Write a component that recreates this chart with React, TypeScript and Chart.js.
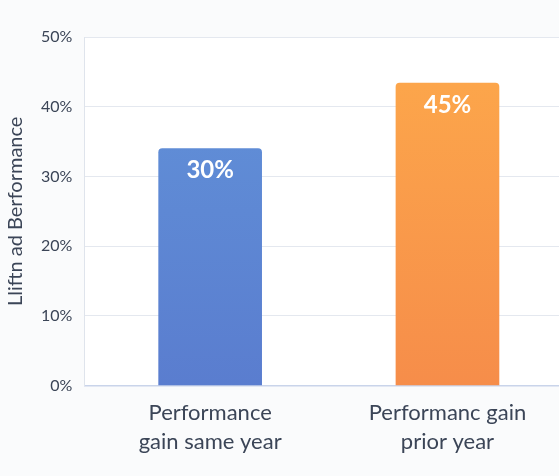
import React, { useEffect, useRef } from "react";
import { Chart, registerables } from "chart.js";

Chart.register(...registerables);

// ---- data ----
const categories: string[][] = [
  ["Performance", "gain same year"],
  ["Performanc gain", "prior year"],
];
const positions: number[] = [0, 1];
const values: number[] = [34.0, 43.4];
const valueLabels: string[] = ["30%", "45%"];
const yTitle = "Lliftn ad Berformance";
const yMin = 0;
const yMax = 50;
const yStep = 10;

// ---- styles ----
const FONT = "Lato";
const TEXT = "#3b4557";
const topColors = ["#6293d9", "#fda94b"];
const bottomColors = ["#5a7dcf", "#f68d4a"];

const bgPlugin = {
  id: "pageBg",
  beforeDraw(chart: any) {
    const { ctx, width, height } = chart;
    ctx.save();
    ctx.fillStyle = "#fafbfc";
    ctx.fillRect(0, 0, width, height);
    const a = chart.chartArea;
    if (a) {
      ctx.fillStyle = "#ffffff";
      ctx.fillRect(a.left, a.top, a.right - a.left, a.bottom - a.top);
    }
    ctx.restore();
  },
};

const barLabelPlugin = {
  id: "barLabels",
  afterDatasetsDraw(chart: any) {
    const meta = chart.getDatasetMeta(0);
    const ctx = chart.ctx;
    ctx.save();
    ctx.fillStyle = "#ffffff";
    ctx.font = `bold 24px ${FONT}`;
    ctx.textAlign = "center";
    ctx.textBaseline = "middle";
    meta.data.forEach((bar: any, i: number) => {
      ctx.fillText(valueLabels[i], bar.x, bar.y + 22);
    });
    ctx.restore();
  },
};

export default function App() {
  const ref = useRef<HTMLCanvasElement | null>(null);

  useEffect(() => {
    document.body.style.margin = "0";
    document.body.style.background = "#fafbfc";
    if (!ref.current) return;
    const chart = new Chart(ref.current, {
      type: "bar",
      data: {
        datasets: [
          {
            data: positions.map((x, i) => ({ x, y: values[i] })),
            backgroundColor: (c: any) => {
              const { chart, dataIndex } = c;
              const area = chart.chartArea;
              if (!area) return topColors[dataIndex];
              const g = chart.ctx.createLinearGradient(0, area.top, 0, area.bottom);
              g.addColorStop(0, topColors[dataIndex]);
              g.addColorStop(1, bottomColors[dataIndex]);
              return g;
            },
            borderRadius: { topLeft: 4, topRight: 4, bottomLeft: 0, bottomRight: 0 },
            borderSkipped: "bottom",
            barThickness: 103,
          },
        ],
      },
      options: {
        animation: false,
        responsive: true,
        maintainAspectRatio: false,
        layout: { padding: { top: 37, left: 2, right: 0, bottom: 7 } },
        plugins: {
          legend: { display: false },
          tooltip: { enabled: false },
        },
        scales: {
          x: {
            type: "linear",
            offset: false,
            min: -0.53,
            max: 1.47,
            afterBuildTicks: (axis: any) => {
              axis.ticks = positions.map((v) => ({ value: v }));
            },
            ticks: {
              callback: (_v: any, i: number) => categories[i],
              font: { family: FONT, size: 22, lineHeight: 1.35 },
              color: TEXT,
              padding: 12,
              autoSkip: false,
              maxRotation: 0,
            },
            grid: { display: false, drawTicks: false, offset: false },
            border: { display: true, color: "#c9d4ea", width: 1.5 },
          },
          y: {
            min: yMin,
            max: yMax,
            ticks: {
              stepSize: yStep,
              callback: (v: any) => v + "%",
              font: { family: FONT, size: 16 },
              color: TEXT,
              padding: 12,
            },
            grid: { color: "#e4e8ef", drawTicks: false },
            border: { display: true, color: "#dfe4ec" },
            title: {
              display: true,
              text: yTitle,
              font: { family: FONT, size: 20 },
              color: TEXT,
              padding: { top: 2, bottom: 1 },
            },
          },
        },
      },
      plugins: [bgPlugin, barLabelPlugin],
    } as any);
    return () => chart.destroy();
  }, []);

  return (
    <div style={{ width: 559, height: 476, position: "relative" }}>
      <canvas ref={ref} />
    </div>
  );
}
